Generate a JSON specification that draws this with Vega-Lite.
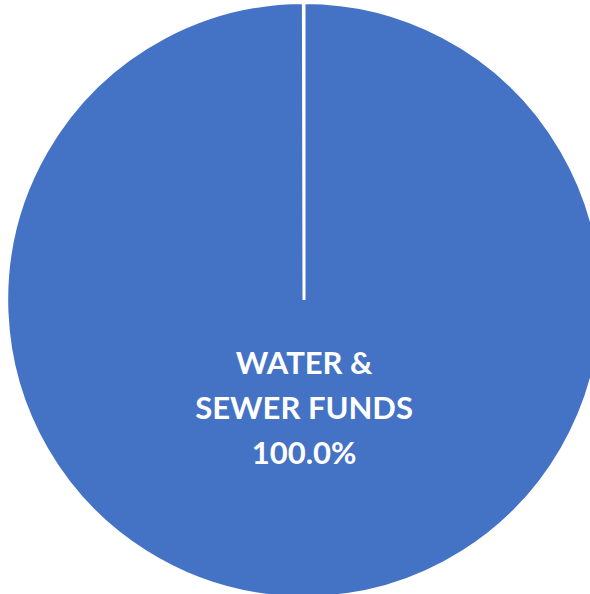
{
  "$schema": "https://vega.github.io/schema/vega-lite/v6.json",
  "width": 608,
  "height": 600,
  "padding": 0,
  "autosize": {"type": "none"},
  "background": "white",
  "config": {"view": {"stroke": null}},
  "data": {"values": [{"category": "WATER &\nSEWER FUNDS", "value": 100, "label": "WATER &\nSEWER FUNDS\n100.0%"}]},
  "encoding": {
    "theta": {"field": "value", "type": "quantitative", "stack": true, "scale": {"range": [0, 6.2812]}},
    "color": {"field": "category", "type": "nominal", "scale": {"range": ["#4472C4"]}, "legend": null}
  },
  "layer": [
    {"mark": {"type": "arc", "outerRadius": 297.5, "stroke": "white", "strokeWidth": 3, "strokeJoin": "miter"}},
    {"mark": {"type": "text", "radius": 65, "color": "white", "font": "Lato", "fontWeight": "bold", "fontSize": 31, "lineBreak": "\n", "lineHeight": 45, "align": "center", "baseline": "middle"},
     "encoding": {"text": {"field": "label"}, "color": {"value": "white"}}}
  ]
}
